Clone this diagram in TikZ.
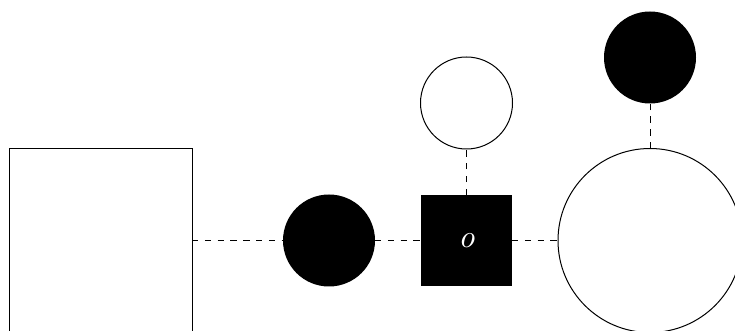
\documentclass[tikz,border=0pt]{standalone}
\usepackage{graphicx}
\begin{document}
\begin{tikzpicture}[x=0.75pt,y=-0.75pt,
  every node/.style={inner sep=0pt,outer sep=0pt,line width=0.75pt},
  dot/.style={circle,fill=black,minimum size=69pt},
  ring/.style={circle,draw=black,fill=white,minimum size=#1},
  box/.style={rectangle,draw=black,minimum size=#1},
  blk/.style={rectangle,fill=black,minimum size=68.25pt,text=white},
  link/.style={line width=0.75pt,dash pattern=on 4.8pt off 4.8pt}]
  \clip (0,0) rectangle (735,331);
  \node[box=137.25pt] (frame) at (100.5,240.5) {};
  \node[dot] (left) at (329,240.5) {};
  \node[blk] (mid) at (466.5,240.5) {\scalebox{2.4}{\normalsize\itshape o}};
  \node[ring=69pt] (top) at (466.5,103) {};
  \node[ring=138pt] (big) at (650,240.5) {};
  \node[dot] (cap) at (650,57.5) {};
  \draw[link] (frame) -- (left);
  \draw[link] (left) -- (mid);
  \draw[link] (mid) -- (big);
  \draw[link] (mid) -- (top);
  \draw[link] (big) -- (cap);
\end{tikzpicture}
\end{document}
